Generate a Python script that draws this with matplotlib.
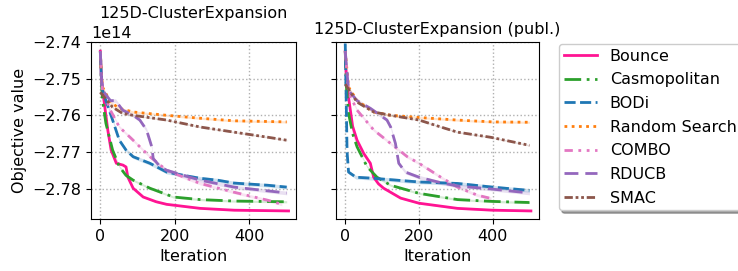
import numpy as np
import matplotlib
matplotlib.use("Agg")
import matplotlib.pyplot as plt

SCALE = 1e14
titles = ["125D-ClusterExpansion", "125D-ClusterExpansion (publ.)"]
methods = ["Bounce", "Casmopolitan", "BODi", "Random Search", "COMBO", "RDUCB", "SMAC"]
colors = ["#ff1493", "tab:green", "tab:blue", "tab:orange", "tab:pink", "tab:purple", "tab:brown"]
styles = ["-", (0, (6, 2, 1, 2)), (0, (4, 1.6)), (0, (1, 1.6)), (0, (3, 2, 1, 2, 1, 2)), (0, (5, 2.5)), (0, (3, 1, 1, 1, 1, 1))]
band = [0.0002, 0.0003, 0.0005, 0.0003, 0.0004, 0.0005, 0.0002]

# ---- left panel (values in units of 1e14) ----
L_bounce_x = [0, 3, 9, 20, 29, 43, 61, 69, 74, 88, 115, 150, 178, 268, 359, 505]
L_bounce_y = [-2.7425, -2.750, -2.7553, -2.764, -2.7695, -2.7731, -2.7736, -2.7741, -2.7769, -2.7799, -2.7823, -2.7836, -2.7843, -2.7854, -2.7859, -2.7861]
L_casmo_x = [0, 3, 6, 15, 33, 51, 69, 88, 133, 196, 268, 359, 500]
L_casmo_y = [-2.7425, -2.751, -2.756, -2.7622, -2.7695, -2.774, -2.7764, -2.7777, -2.7799, -2.7823, -2.783, -2.7834, -2.7836]
L_bodi_x = [0, 3, 6, 15, 33, 51, 69, 88, 133, 178, 224, 268, 314, 359, 450, 500]
L_bodi_y = [-2.7425, -2.750, -2.7532, -2.756, -2.7613, -2.7668, -2.7695, -2.7713, -2.7731, -2.7755, -2.7764, -2.7772, -2.7777, -2.7785, -2.7791, -2.7796]
L_rand_x = [0, 3, 6, 27, 51, 88, 178, 268, 359, 500]
L_rand_y = [-2.7425, -2.749, -2.7523, -2.7564, -2.7581, -2.7591, -2.760, -2.7608, -2.7615, -2.7618]
L_combo_x = [0, 3, 6, 27, 51, 88, 133, 178, 224, 268, 359, 450, 487]
L_combo_y = [-2.7425, -2.750, -2.7532, -2.7586, -2.7632, -2.7668, -2.7713, -2.775, -2.7769, -2.7786, -2.781, -2.7832, -2.7843]
L_rducb_x = [0, 3, 6, 27, 41, 60, 88, 106, 124, 138, 142, 160, 178, 224, 268, 359, 500]
L_rducb_y = [-2.7425, -2.750, -2.7532, -2.756, -2.756, -2.7586, -2.760, -2.7613, -2.764, -2.7686, -2.7718, -2.774, -2.775, -2.7764, -2.7777, -2.7796, -2.7812]
L_smac_x = [0, 33, 60, 88, 178, 268, 359, 450, 500]
L_smac_y = [-2.7537, -2.7578, -2.7595, -2.760, -2.7613, -2.7632, -2.7646, -2.766, -2.7668]

# ---- right panel ----
R_bounce_x = [0, 3, 9, 20, 32, 50, 68, 77, 90, 104, 150, 200, 304, 399, 503]
R_bounce_y = [-2.7425, -2.750, -2.7551, -2.763, -2.7668, -2.7704, -2.7731, -2.7769, -2.7787, -2.7799, -2.7826, -2.784, -2.7854, -2.7859, -2.7861]
R_casmo_x = [0, 3, 9, 20, 32, 59, 86, 123, 200, 304, 399, 499]
R_casmo_y = [-2.7425, -2.752, -2.7595, -2.765, -2.7686, -2.774, -2.7769, -2.7791, -2.7813, -2.783, -2.7835, -2.7838]
R_bodi_x = [0, 5, 9, 29, 77, 200, 304, 399, 499]
R_bodi_y = [-2.7404, -2.7700, -2.7755, -2.7769, -2.7772, -2.7782, -2.7786, -2.7796, -2.7805]
R_rand_x = [0, 9, 32, 77, 123, 200, 304, 399, 499]
R_rand_y = [-2.7425, -2.7523, -2.756, -2.7591, -2.760, -2.7606, -2.7613, -2.7618, -2.7619]
R_combo_x = [0, 9, 32, 77, 123, 168, 200, 259, 304, 358, 395]
R_combo_y = [-2.7425, -2.7538, -2.7586, -2.764, -2.7677, -2.7713, -2.7731, -2.7769, -2.7796, -2.7818, -2.7827]
R_rducb_x = [0, 9, 32, 68, 95, 113, 123, 136, 145, 163, 200, 259, 304, 394, 499]
R_rducb_y = [-2.7425, -2.7532, -2.756, -2.7581, -2.760, -2.7613, -2.7632, -2.7677, -2.7731, -2.7755, -2.7769, -2.7784, -2.7793, -2.7801, -2.7812]
R_smac_x = [0, 32, 77, 123, 200, 259, 304, 394, 499]
R_smac_y = [-2.7515, -2.7564, -2.7591, -2.760, -2.7613, -2.7632, -2.7646, -2.766, -2.7682]

panels = [
    [(L_bounce_x, L_bounce_y), (L_casmo_x, L_casmo_y), (L_bodi_x, L_bodi_y), (L_rand_x, L_rand_y),
     (L_combo_x, L_combo_y), (L_rducb_x, L_rducb_y), (L_smac_x, L_smac_y)],
    [(R_bounce_x, R_bounce_y), (R_casmo_x, R_casmo_y), (R_bodi_x, R_bodi_y), (R_rand_x, R_rand_y),
     (R_combo_x, R_combo_y), (R_rducb_x, R_rducb_y), (R_smac_x, R_smac_y)],
]

plt.rcParams["font.size"] = 11.5
fig = plt.figure(figsize=(7.38, 2.71), dpi=100)
ax1 = fig.add_axes([0.1233, 0.1919, 0.2778, 0.6531])
ax2 = fig.add_axes([0.4553, 0.1919, 0.2751, 0.6531], sharey=ax1)
handles = []
for ax, data, title in zip([ax1, ax2], panels, titles):
    for (x, y), m, c, ls, b in zip(data, methods, colors, styles, band):
        x = np.asarray(x, float)
        y = np.asarray(y, float) * SCALE
        h, = ax.plot(x, y, color=c, ls=ls, lw=2, label=m)
        ax.fill_between(x, y - b * SCALE, y + b * SCALE, color=c, alpha=0.2, lw=0)
        if ax is ax1:
            handles.append(h)
    ax.set_xlabel("Iteration")
    ax.grid(True, ls=":", color="#b0b0b0", lw=1)
    ax.set_xlim(-25, 525)
    ax.set_xticks([0, 200, 400])
ax1.set_title(titles[0], fontsize=11.5)
ax2.set_title(titles[1], fontsize=11.5, y=1.0)
ax1.set_ylim(-2.7883 * SCALE, -2.7400 * SCALE)
ax1.set_yticks(np.array([-2.78, -2.77, -2.76, -2.75, -2.74]) * SCALE)
ax1.set_ylabel("Objective value")
plt.setp(ax2.get_yticklabels(), visible=False)
ax2.yaxis.get_offset_text().set_visible(False)

fig.legend(handles=handles, labels=methods, loc="upper left", bbox_to_anchor=(0.7466, 0.867),
           shadow=True, fontsize=11.5, frameon=True, handlelength=2.1, handletextpad=0.78,
           borderpad=0.3, labelspacing=0.54)
fig.savefig("out.png", dpi=100)
